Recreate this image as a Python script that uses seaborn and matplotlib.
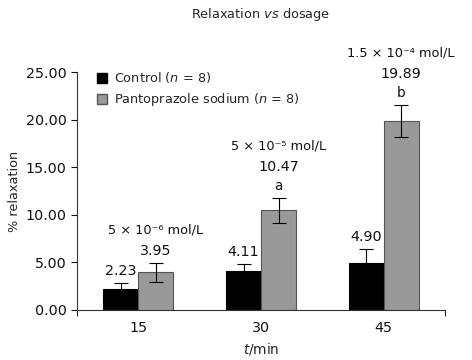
import pandas as pd
import matplotlib
matplotlib.use("Agg")
import matplotlib.pyplot as plt
import seaborn as sns

# values
times = ["15", "30", "45"]
groups = ["Control ($n$ = 8)", "Pantoprazole sodium ($n$ = 8)"]
control = [2.23, 4.11, 4.90]
panto = [3.95, 10.47, 19.89]
control_err = [0.6, 0.7, 1.5]
panto_err = [1.0, 1.3, 1.7]
dosages = ["5 × 10⁻⁶ mol/L", "5 × 10⁻⁵ mol/L", "1.5 × 10⁻⁴ mol/L"]
letters = ["", "a", "b"]

df = pd.DataFrame({
    "time": times * 2,
    "group": [groups[0]] * 3 + [groups[1]] * 3,
    "value": control + panto,
    "err": control_err + panto_err,
})

sns.set_theme(style="ticks")
plt.rcParams["font.family"] = ["DejaVu Sans"]
plt.rcParams["mathtext.fontset"] = "dejavusans"

num_fs = 10.3
txt_fs = 9.3

fig = plt.figure(figsize=(4.72, 3.6), dpi=100)
ax = fig.add_axes([0.163, 0.139, 0.78, 0.66])

sns.barplot(data=df, x="time", y="value", hue="group", order=times,
            hue_order=groups, palette=["#000000", "#999999"],
            width=0.57, errorbar=None, ax=ax, saturation=1)

edges = ["#000000", "#555555"]
bar_groups = list(ax.containers)
for gi, cont in enumerate(bar_groups):
    sub = df[df["group"] == groups[gi]].reset_index(drop=True)
    for i, bar in enumerate(cont):
        bar.set_edgecolor(edges[gi])
        bar.set_linewidth(0.8)
        xc = bar.get_x() + bar.get_width() / 2
        h = bar.get_height()
        e = sub.loc[i, "err"]
        ax.errorbar(xc, h, yerr=e, fmt="none", ecolor="#000000",
                    elinewidth=0.8, capsize=5, capthick=0.8, zorder=3)
        lines = [(f"{h:.2f}", num_fs)]
        if gi == 1:
            if letters[i]:
                lines = [(letters[i], txt_fs + 0.5)] + lines
            lines = lines + [(dosages[i], txt_fs)]
        off = 12
        for t, fs in lines:
            ax.annotate(t, (xc, h + e), xytext=(0, off), textcoords="offset pixels",
                        ha="center", va="center", fontsize=fs, color="#111111")
            off += 19 if t in ("a", "b") else 21

ax.set_ylim(0, 25)
ax.set_xlim(-0.5, 2.5)
ax.set_yticks([0, 5, 10, 15, 20, 25])
ax.set_yticklabels([f"{v:.2f}" for v in [0, 5, 10, 15, 20, 25]])
ax.tick_params(axis="y", direction="out", length=4, width=0.8, labelsize=num_fs, colors="#111111")
ax.tick_params(axis="x", length=0, labelsize=num_fs, colors="#111111", pad=8)
ax.set_xticks([-0.5, 2.5], minor=True)
ax.tick_params(axis="x", which="minor", length=4, width=0.8, direction="out")
for s in ["top", "right"]:
    ax.spines[s].set_visible(False)
for s in ["left", "bottom"]:
    ax.spines[s].set_linewidth(0.8)
    ax.spines[s].set_color("#333333")

ax.set_xlabel("$t$/min", fontsize=txt_fs + 0.5, labelpad=4)
ax.set_ylabel("% relaxation", fontsize=txt_fs, labelpad=3)
fig.text(0.552, 0.96, "Relaxation $vs$ dosage", ha="center", va="center", fontsize=txt_fs)

leg = ax.legend(loc="upper left", bbox_to_anchor=(0.04, 1.03), frameon=False,
                fontsize=txt_fs, handlelength=0.8, handleheight=0.8,
                handletextpad=0.5, labelspacing=0.45, borderaxespad=0)
for h, ec in zip(leg.legend_handles, edges):
    h.set_edgecolor(ec)

fig.savefig("out.png", dpi=100)
